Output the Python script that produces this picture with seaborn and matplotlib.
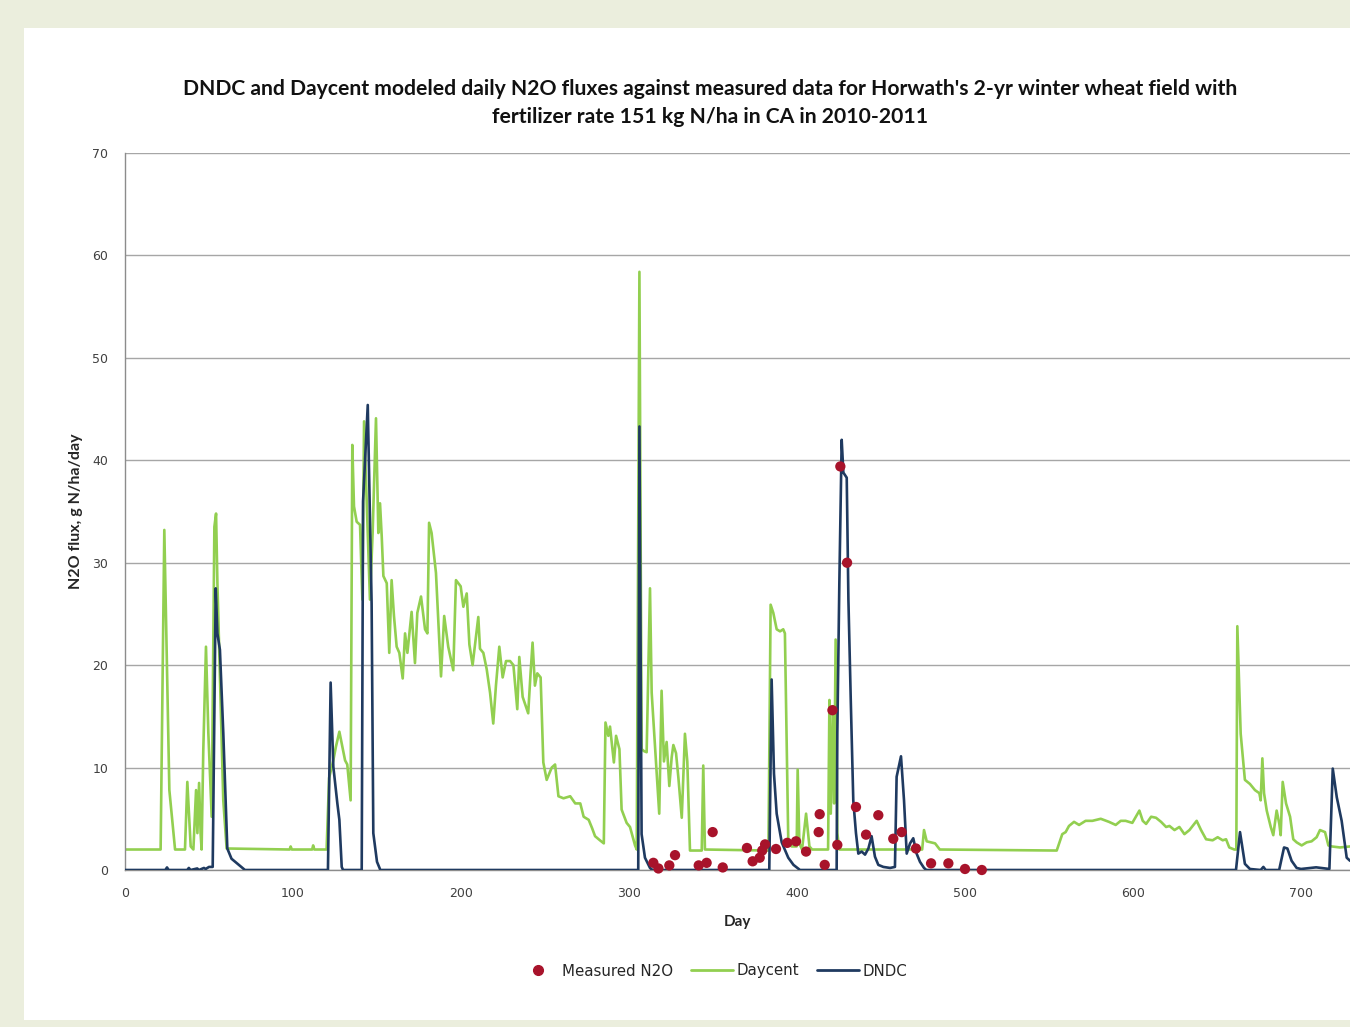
import numpy as np
import pandas as pd
import matplotlib
matplotlib.use("Agg")
import matplotlib.pyplot as plt
from matplotlib.patches import Rectangle
from matplotlib.lines import Line2D
import seaborn as sns

# Daycent modeled daily flux (day, g N/ha/day)
daycent_day = [0, 21.2, 23.4, 26.4, 29.8, 35.7, 37.1, 39.1, 40.7, 42.3, 43.1, 44.1, 45.0, 45.6,
               46.6, 48.2, 49.6, 51.6, 53.2, 54.2, 55.0, 56.5, 58.5, 60.5, 98.0, 98.6, 99.3,
               111.4, 112.0, 112.7, 120.0, 121.5, 124.0, 125.5, 127.6, 131.0, 132.3, 134.3,
               135.3, 136.3, 137.9, 139.9, 141.3, 142.3, 143.5, 145.8, 147.4, 149.4, 150.8,
               151.8, 152.8, 153.8, 155.8, 157.3, 158.7, 160.1, 161.7, 163.3, 165.3, 166.7,
               168.1, 170.6, 172.6, 174.0, 176.2, 178.6, 180.0, 181.0, 182.5, 185.1, 188.1,
               190.0, 192.4, 195.4, 197.0, 199.8, 201.4, 203.4, 205.0, 206.9, 210.3, 211.3,
               213.3, 215.3, 217.3, 219.2, 220.8, 222.8, 224.8, 226.8, 229.2, 231.2, 233.5,
               234.7, 236.7, 240.0, 241.4, 242.6, 244.0, 245.4, 247.4, 249.0, 251.0, 254.0,
               256.0, 258.0, 261.0, 265.0, 268.0, 271.0, 273.0, 276.0, 278.0, 279.8, 282.7,
               285.0, 286.0, 287.7, 288.7, 291.0, 292.3, 294.3, 295.6, 298.6, 300.6, 303.6,
               304.6, 306.2, 307.5, 309.0, 310.5, 312.5, 313.5, 315.0, 316.5, 318.0, 319.4,
               320.8, 322.4, 324.0, 325.4, 326.4, 328.0, 329.4, 331.4, 333.3, 334.7, 336.3,
               343.3, 344.2, 345.2, 383.0, 384.3, 385.9, 387.9, 389.9, 391.8, 392.8, 394.8,
               396.8, 399.8, 400.4, 401.4, 403.0, 405.4, 407.4, 409.0, 418.5, 419.3, 420.1,
               421.3, 422.1, 423.0, 424.0, 425.2, 474.5, 475.6, 477.2, 482.2, 485.0, 554.6,
               557.9, 559.9, 561.9, 564.9, 567.9, 571.8, 575.8, 580.8, 585.7, 589.7, 592.7,
               595.6, 599.6, 603.8, 605.8, 607.8, 610.8, 613.7, 616.7, 619.7, 621.7, 624.7,
               627.6, 630.6, 633.6, 637.9, 640.5, 643.5, 647.4, 650.4, 653.4, 655.4, 657.3,
               660.3, 661.5, 662.1, 664.1, 666.6, 669.6, 672.6, 675.2, 676.0, 677.0, 678.0,
               679.6, 682.0, 683.5, 685.5, 687.1, 687.9, 689.1, 691.1, 693.5, 695.4, 697.4,
               700.4, 703.4, 706.3, 709.3, 711.3, 714.3, 716.3, 718.3, 723.2, 729.2]
daycent_val = [2.0, 2.0, 33.2, 7.8, 2.0, 2.0, 8.6, 2.3, 2.0, 7.8, 3.6, 8.5, 3.6, 2.0,
               11.7, 21.8, 13.4, 5.2, 33.5, 34.8, 28.0, 18.9, 6.8, 2.1, 2.0, 2.3, 2.0,
               2.0, 2.4, 2.0, 2.0, 9.0, 10.7, 12.0, 13.5, 10.7, 10.3, 6.8,
               41.5, 35.5, 34.0, 33.7, 26.4, 43.8, 37.8, 26.4, 32.9, 44.1, 32.9,
               35.8, 32.6, 28.7, 28.0, 21.2, 28.3, 24.8, 21.8, 21.2, 18.7, 23.1,
               21.2, 25.2, 20.2, 25.1, 26.7, 23.5, 23.1, 33.9, 32.9, 29.0, 18.9,
               24.8, 21.8, 19.5, 28.3, 27.7, 25.7, 27.0, 22.0, 20.0, 24.7, 21.6,
               21.2, 19.6, 17.3, 14.3, 18.0, 21.8, 18.8, 20.4, 20.4, 20.0, 15.7,
               20.8, 16.9, 15.3, 19.2, 22.2, 18.0, 19.2, 18.8, 10.5, 8.8, 10.0,
               10.3, 7.2, 7.0, 7.2, 6.5, 6.5, 5.2, 4.9, 4.1, 3.3, 2.9,
               2.6, 14.4, 13.1, 14.0, 10.5, 13.1, 11.8, 5.9, 4.6, 4.2, 2.4,
               2.0, 58.4, 11.8, 11.6, 11.5, 27.5, 17.3, 13.3, 9.4, 5.5, 17.5,
               10.6, 12.5, 8.2, 11.0, 12.2, 11.4, 9.0, 5.1, 13.3, 10.6, 1.9,
               1.9, 10.2, 2.0, 1.9, 25.9, 25.1, 23.5, 23.3, 23.5, 23.1, 2.9,
               2.3, 2.3, 9.8, 2.6, 2.0, 5.5, 2.3, 2.0, 2.0, 16.6, 5.5,
               16.0, 6.5, 22.5, 3.6, 2.0, 2.0, 3.9, 2.8, 2.6, 2.0, 1.9,
               3.5, 3.7, 4.3, 4.7, 4.4, 4.8, 4.8, 5.0, 4.7, 4.4, 4.8,
               4.8, 4.6, 5.8, 4.8, 4.5, 5.2, 5.1, 4.7, 4.2, 4.3, 3.9,
               4.2, 3.5, 3.9, 4.8, 3.9, 3.0, 2.9, 3.2, 2.9, 3.0, 2.2,
               2.0, 2.0, 23.8, 13.3, 8.8, 8.4, 7.8, 7.5, 6.8, 10.9, 7.5,
               5.8, 4.2, 3.4, 5.8, 4.5, 3.4, 8.6, 6.5, 5.2, 3.0, 2.7,
               2.4, 2.7, 2.8, 3.2, 3.9, 3.7, 2.4, 2.3, 2.2, 2.3]

# DNDC modeled daily flux
dndc_day = [0, 24, 25, 26, 37, 38, 39, 43, 44, 47, 48, 50, 52.2, 54.0, 55.0, 56.5, 58.5,
            60.9, 63.4, 71.4, 120.8, 122.4, 124.0, 126.4, 127.6, 129.0, 129.8, 140.9,
            141.7, 144.5, 146.8, 147.8, 150.0, 152.0, 305.5, 306.2, 307.5, 309.5, 312.5,
            314.0, 383.5, 384.9, 386.3, 387.9, 390.9, 394.8, 397.9, 401.8, 423.6, 424.0,
            425.2, 426.6, 427.6, 429.6, 430.6, 432.0, 433.5, 435.1, 436.5, 438.5, 440.5,
            442.5, 444.4, 446.4, 448.4, 451.4, 455.4, 458.3, 459.3, 461.9, 463.7, 465.3,
            467.3, 469.2, 471.2, 473.2, 475.6, 477.0, 661.3, 663.7, 666.6, 669.6, 676.0,
            677.6, 679.0, 687.0, 689.9, 691.9, 694.4, 697.4, 700.0, 709.0, 716.9, 718.9,
            721.3, 724.2, 727.2, 729.2]
dndc_val = [0, 0, 0.25, 0, 0, 0.2, 0, 0.15, 0, 0.2, 0.1, 0.3, 0.3, 27.5, 23.1, 21.5, 13.4,
            2.1, 1.1, 0, 0, 18.3, 10.1, 6.5, 4.9, 0.3, 0, 0,
            36.0, 45.4, 26.0, 3.6, 0.8, 0, 0, 43.3, 3.5, 1.2, 0.2,
            0, 0, 18.6, 9.4, 5.5, 2.7, 1.2, 0.5, 0, 0, 13.4,
            28.0, 42.0, 38.8, 38.3, 26.4, 16.6, 6.8, 3.6, 1.6, 1.8, 1.5,
            2.1, 3.3, 1.3, 0.5, 0.3, 0.2, 0.3, 9.1, 11.1, 6.8, 1.6,
            2.6, 3.1, 1.6, 0.8, 0.2, 0, 0, 3.7, 0.6, 0.1, 0,
            0.3, 0, 0, 2.2, 2.1, 0.9, 0.2, 0.1, 0.26, 0.1, 9.9,
            7.1, 4.8, 1.2, 0.9]

# measured N2O
meas_day = [314.5, 317.5, 324.0, 327.4, 341.5, 346.2, 349.8, 355.8, 370.2, 373.6, 377.8,
            379.3, 381.0, 387.5, 394.2, 399.4, 405.4, 412.9, 413.5, 416.5, 421.1, 424.0,
            425.8, 429.8, 435.1, 441.1, 448.4, 457.3, 462.3, 470.8, 479.8, 490.1, 500.0, 510.0]
meas_val = [0.7, 0.15, 0.45, 1.45, 0.45, 0.7, 3.7, 0.25, 2.15, 0.85, 1.2,
            1.9, 2.5, 2.05, 2.65, 2.8, 1.8, 3.7, 5.45, 0.5, 15.6, 2.45,
            39.4, 30.0, 6.15, 3.45, 5.35, 3.05, 3.7, 2.1, 0.65, 0.65, 0.1, 0.0]

green = "#92CF50"
navy = "#1F3A60"
red = "#A8132B"

sns.set_style("white")
plt.rcParams["font.family"] = ["DejaVu Sans"]

fig = plt.figure(figsize=(13.5, 10.27), dpi=100)
fig.patch.set_facecolor("#EBEEDD")
fig.add_artist(Rectangle((24 / 1350, 1 - 1020 / 1027), 1 - 24 / 1350, 992 / 1027,
                         transform=fig.transFigure, facecolor="white", edgecolor="none", zorder=0))

ax = fig.add_axes([125 / 1350, 157 / 1027, 1 - 125 / 1350, 717 / 1027])
ax.set_facecolor("white")

sns.lineplot(x=daycent_day, y=daycent_val, color=green, lw=1.9, ax=ax,
             estimator=None, sort=False, zorder=2)
sns.lineplot(x=dndc_day, y=dndc_val, color=navy, lw=1.9, ax=ax,
             estimator=None, sort=False, zorder=3)
sns.scatterplot(x=meas_day, y=meas_val, color=red, s=55, edgecolor="none", ax=ax,
                zorder=4, clip_on=False)

ax.set_xlim(0, (1350 - 125) / 1.68)
ax.set_ylim(0, 70)
ax.set_xticks(np.arange(0, 701, 100))
ax.set_yticks(np.arange(0, 71, 10))
ax.yaxis.grid(True, color="#A6A6A6", lw=1)
ax.set_axisbelow(True)
for s in ["top", "right"]:
    ax.spines[s].set_visible(False)
for s in ["left", "bottom"]:
    ax.spines[s].set_color("#8C8C8C")
    ax.spines[s].set_linewidth(1)
ax.tick_params(axis="both", labelsize=9, colors="#404040", length=4, color="#8C8C8C",
               direction="out", pad=8)

ax.set_xlabel("Day", fontsize=11, fontweight="bold", family=["Lato", "DejaVu Sans"], labelpad=11)
ax.set_ylabel("N2O flux, g N/ha/day", fontsize=11.5, fontweight="bold",
              family=["Lato", "DejaVu Sans"], labelpad=7)

fig.text(710 / 1350, 1 - 103 / 1027,
         "DNDC and Daycent modeled daily N2O fluxes against measured data for Horwath's 2-yr winter wheat field with\n"
         "fertilizer rate 151 kg N/ha in CA in 2010-2011",
         ha="center", va="center", fontsize=15.2, fontweight="bold",
         family=["Lato", "DejaVu Sans"], linespacing=1.5, color="#111111")

handles = [Line2D([], [], ls="none", marker="o", color=red, markersize=7),
           Line2D([], [], color=green, lw=2),
           Line2D([], [], color=navy, lw=2)]
fig.legend(handles, ["Measured N2O", "Daycent", "DNDC"], loc="center",
           bbox_to_anchor=(712 / 1350, 1 - 971 / 1027), ncol=3, frameon=False,
           fontsize=10.8, handlelength=2.8, handletextpad=0.2, columnspacing=1.2,
           labelcolor="#262626")

fig.savefig("out.png", dpi=100, facecolor=fig.get_facecolor())
